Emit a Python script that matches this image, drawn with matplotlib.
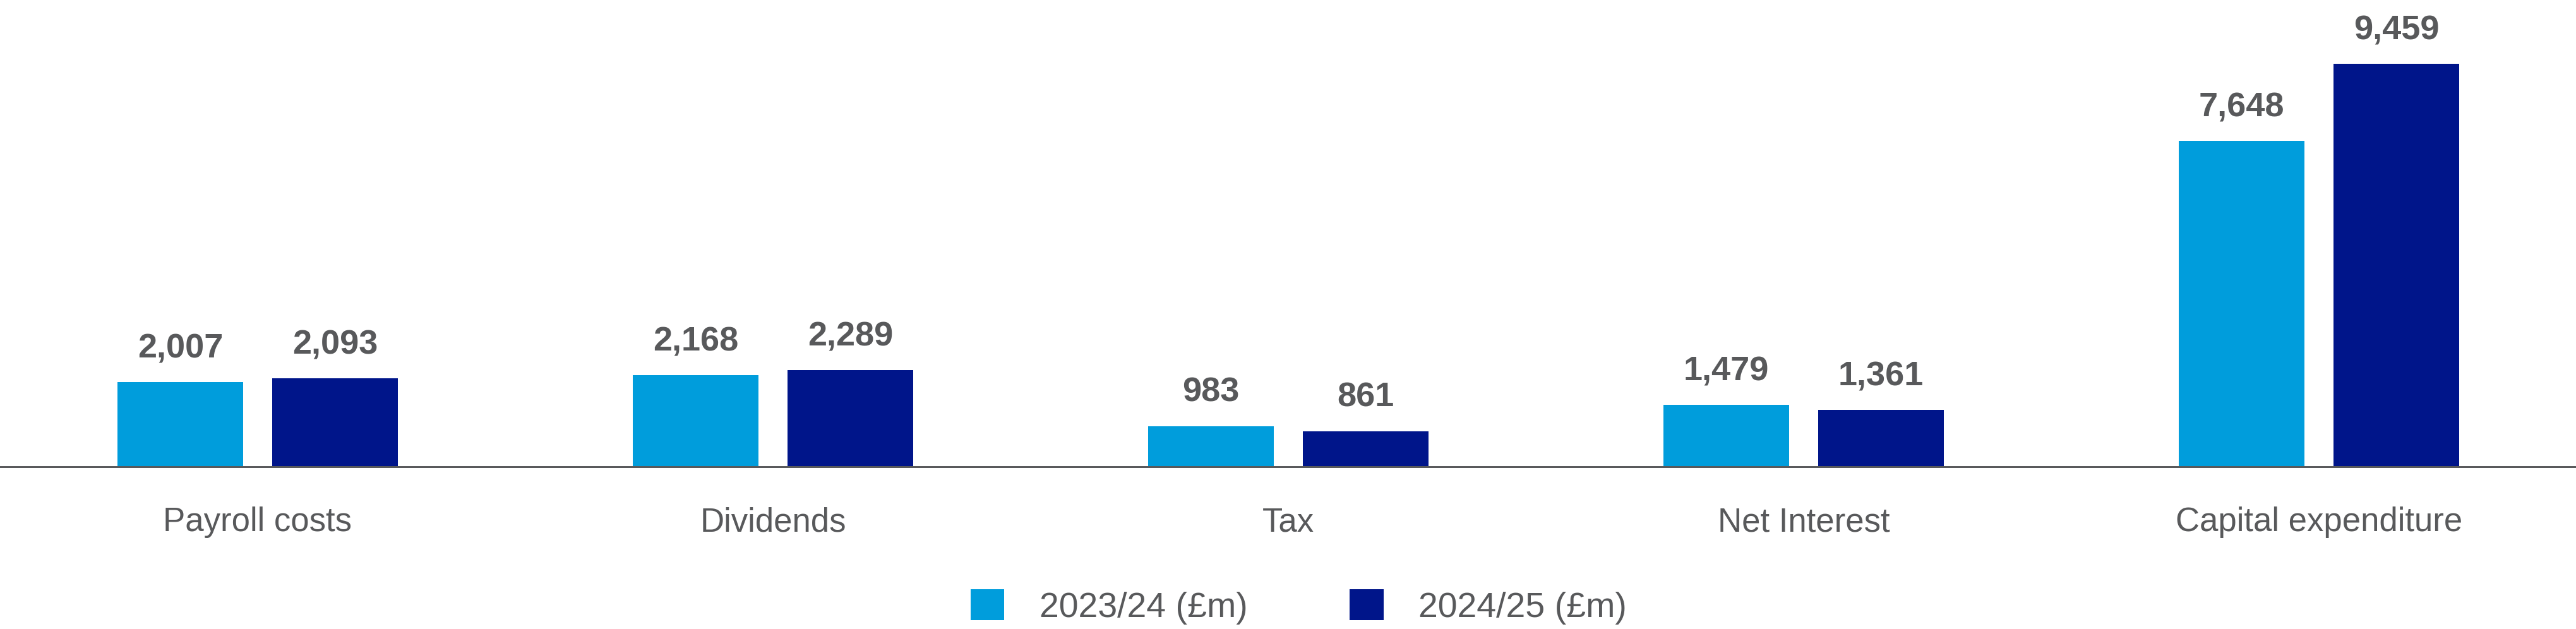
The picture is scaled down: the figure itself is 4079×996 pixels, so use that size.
import matplotlib
matplotlib.use("Agg")
import matplotlib.pyplot as plt
import numpy as np
from matplotlib.patches import Patch

categories = ["Payroll costs", "Dividends", "Tax", "Net Interest", "Capital expenditure"]
values_2324 = [2007, 2168, 983, 1479, 7648]
values_2425 = [2093, 2289, 861, 1361, 9459]
series_labels = ["2023/24 (£m)", "2024/25 (£m)"]

C_LIGHT = "#009ddc"
C_DARK = "#00158a"
C_TEXT = "#58595b"

plt.rcParams['font.family'] = ['Liberation Sans', 'DejaVu Sans']

fig = plt.figure(figsize=(40.8, 9.96), dpi=100)
ax = fig.add_axes([0, 0.256, 1, 0.744])

x = np.arange(len(categories))
w = 0.243
off = 0.15
b1 = ax.bar(x - off, values_2324, width=w, color=C_LIGHT, zorder=2)
b2 = ax.bar(x + off, values_2425, width=w, color=C_DARK, zorder=2)

for bars, vals in ((b1, values_2324), (b2, values_2425)):
    for rect, v in zip(bars, vals):
        ax.annotate(f"{v:,}", (rect.get_x() + rect.get_width() / 2, v),
                    xytext=(0, 28), textcoords="offset points",
                    ha="center", va="baseline", fontsize=39,
                    fontweight="bold", color=C_TEXT)

ax.set_xlim(-0.5, len(categories) - 0.5)
ax.set_ylim(0, 10950)
ax.axhline(0, color=C_TEXT, lw=4.3, zorder=3)
for s in ax.spines.values():
    s.set_visible(False)
ax.set_yticks([])
ax.set_xticks(x)
ax.set_xticklabels(categories, fontsize=38, color=C_TEXT)
ax.tick_params(axis="x", length=0, pad=44)

handles = [Patch(facecolor=C_LIGHT, edgecolor="none"), Patch(facecolor=C_DARK, edgecolor="none")]
leg = fig.legend(handles, series_labels, loc="center", bbox_to_anchor=(0.504, 0.035),
                 ncol=2, frameon=False, fontsize=40, handlelength=0.97, handleheight=0.97,
                 handletextpad=1.0, columnspacing=2.9, borderpad=0, borderaxespad=0)
for t in leg.get_texts():
    t.set_color(C_TEXT)

fig.savefig("out.png", dpi=100, facecolor="white")
